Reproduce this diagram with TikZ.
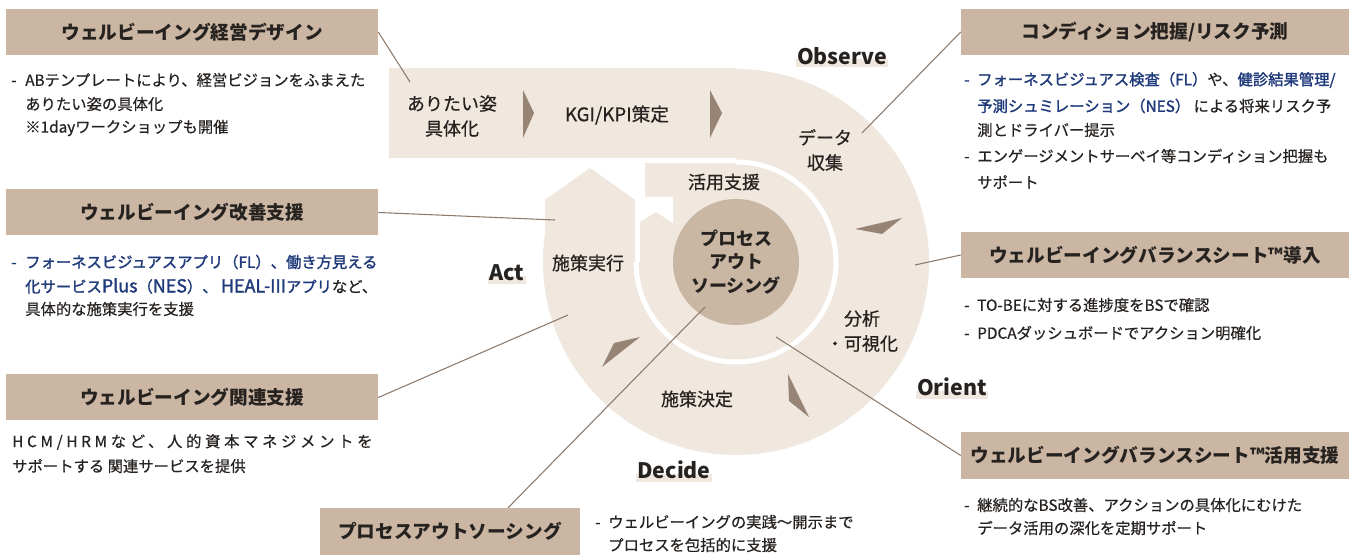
\documentclass[tikz,border=0pt]{standalone}
\usepackage{fontspec}
\setmainfont{Noto Sans CJK JP}
\newfontfamily\bodyfont{Noto Sans CJK JP}[FakeBold=0.6]
\newfontfamily\bluefont{Noto Sans CJK JP}[FakeBold=1.6]
\newfontfamily\widefont{Noto Sans CJK JP}[LetterSpace=24,FakeBold=0.6]
\usetikzlibrary{calc}
\definecolor{beige}{HTML}{F0E7DE}
\definecolor{tanc}{HTML}{CAB6A3}
\definecolor{circc}{HTML}{C9B6A3}
\definecolor{tric}{HTML}{978474}
\definecolor{ink}{HTML}{262220}
\definecolor{navy}{HTML}{1F3A7A}
\definecolor{connc}{HTML}{8C7A6C}
\pgfdeclarelayer{bg}
\pgfsetlayers{bg,main}
\newcommand\mydash{\makebox[10.5pt][l]{-}}
\newcommand\mydashR{\makebox[9.75pt][l]{-}}
\newcommand\blue[1]{\textcolor{navy}{\bluefont #1}}
\newcommand\lat[1]{{\fontsize{13.4}{14}\selectfont #1}}
\begin{document}
\begin{tikzpicture}[x=0.75pt,y=-0.75pt,
  hbox/.style={fill=tanc, text=ink, font=\fontsize{14}{16}\selectfont\bfseries, minimum height=34.5pt, inner sep=0pt},
  body/.style={anchor=west, inner sep=0pt, text=ink, font=\fontsize{11.5}{14}\bodyfont},
  dtext/.style={text=ink, font=\fontsize{13.5}{18.75}\bodyfont, align=center, inner sep=0pt},
  lab/.style={text=ink, font=\fontsize{16}{18}\selectfont\bfseries, inner sep=1pt},
  conn/.style={draw=connc, line width=0.8pt},
  tri/.style={fill=tric}]
\useasboundingbox (0,0) rectangle (1359,555);

% ---- central cycle shape ----
\fill[beige] (389,68.5) rectangle (736,158);
\fill[beige] (736,262) circle[radius=193];
\fill[white] (530,158) -- (736,158) -- (736,163) -- (645,163) -- (645,197) -- (673,197)
  -- (673,223) -- (656,212) -- (640,222) -- (640,262) -- (635,262) -- (635,200)
  -- (590,168) -- (545,200) -- (530,200) -- cycle;
\fill[beige] (545,262) -- (545,200) -- (590,168) -- (635,200) -- (635,262) -- cycle;
\draw[white, line width=3.75pt] (736,162) arc[start angle=-90, end angle=180, radius=100];

% arrows in the band
\fill[tri] (523,90) -- (534,113) -- (523,138) -- cycle;
\fill[tri] (710,90) -- (722,113) -- (710,138) -- cycle;
\fill[tri] (855,229) -- (902,218) -- (882,234) -- cycle;
\fill[tri] (788,374) -- (809,417) -- (789,401) -- cycle;
\fill[tri] (602,367) -- (614,343) -- (640,337) -- cycle;

% center circle
\node[circle, fill=circc, minimum size=94.5pt, inner sep=0pt, text=ink, align=center,
  font=\fontsize{13.5}{17.6}\selectfont\bfseries] (pc) at (736,262) {プロセス\\アウト\\ソーシング};

% texts in the band
\node[dtext] (d1) at (452,116) {ありたい姿\\具体化};
\node[dtext, font=\fontsize{14}{18.75}\bodyfont] (d2) at (617,115) {KGI/KPI策定};
\node[dtext] (d3) at (825,150) {データ\\収集};
\node[dtext] (d4) at (724,182) {活用支援};
\node[dtext] (d5) at (588,263) {施策実行};
\node[dtext] (d6) at (862,331) {分析\\・可視化};
\node[dtext] (d7) at (697,399) {施策決定};

% OODA labels
\node[lab] (obs) at (842,56) {Observe};
\node[lab] (act) at (507,273) {Act};
\node[lab] (ori) at (952,387) {Orient};
\node[lab] (dec) at (674,470) {Decide};
\begin{pgfonlayer}{bg}
\foreach \l in {obs,act,ori,dec}
  \fill[beige] ($(\l.base west)+(0,-5)$) rectangle ($(\l.base east)+(0,3)$);
\end{pgfonlayer}

% ---- header boxes ----
\node[hbox, minimum width=279pt] (b1) at (192,32) {ウェルビーイング経営デザイン};
\node[hbox, minimum width=279pt] (b2) at (192,212.5) {ウェルビーイング改善支援};
\node[hbox, minimum width=279pt] (b3) at (192,397.5) {ウェルビーイング関連支援};
\node[hbox, minimum width=195pt, minimum height=35.25pt] (b4) at (450,531.5) {プロセスアウトソーシング};
\node[hbox, minimum width=291pt] (b5) at (1155,32) {コンディション把握/リスク予測};
\node[hbox, minimum width=291pt] (b6) at (1155,255) {ウェルビーイングバランスシート™導入};
\node[hbox, minimum width=291pt] (b7) at (1155,455.5) {ウェルビーイングバランスシート™活用支援};

% ---- body texts ----
\node[body] (t1a) at (11,80) {\mydash ABテンプレートにより、経営ビジョンをふまえた};
\node[body] (t1b) at (25,104) {ありたい姿の具体化};
\node[body] (t1c) at (25,128) {※1dayワークショップも開催};

\node[body] (t2a) at (11,262) {\blue{\mydash フォーネスビジュアスアプリ（FL）、働き方見える}};
\node[body] (t2b) at (25,286) {\blue{化サービス\lat{Plus}（\lat{NES}）、 \lat{HEAL-III}アプリ}など、};
\node[body] (t2c) at (25,309) {具体的な施策実行を支援};

\node[body, font=\fontsize{11.5}{14}\widefont] (t3a) at (12,442) {HCM/HRMなど、人的資本マネジメントを};
\node[body] (t3b) at (12,466) {サポートする 関連サービスを提供};

\node[body] (t4a) at (595,522) {\mydashR ウェルビーイングの実践～開示まで};
\node[body] (t4b) at (608,545) {プロセスを包括的に支援};

\node[body] (t5a) at (964,80) {\blue{\mydashR フォーネスビジュアス検査（FL）}や、\blue{健診結果管理/}};
\node[body] (t5b) at (977,106) {\blue{予測シュミレーション（NES）} による将来リスク予};
\node[body] (t5c) at (977,130) {測とドライバー提示};
\node[body] (t5d) at (964,156) {\mydashR エンゲージメントサーベイ等コンディション把握も};
\node[body] (t5e) at (977,182) {サポート};

\node[body] (t6a) at (964,305) {\mydashR TO-BEに対する進捗度をBSで確認};
\node[body] (t6b) at (964,333) {\mydashR PDCAダッシュボードでアクション明確化};

\node[body] (t7a) at (964,505) {\mydashR 継続的なBS改善、アクションの具体化にむけた};
\node[body] (t7b) at (977,528) {データ活用の深化を定期サポート};

% ---- connectors ----
\coordinate (e1) at (410,82);
\coordinate (e2) at (555,220);
\coordinate (e3) at (568,315);
\coordinate (e4) at (705,307);
\coordinate (e5) at (862,133);
\coordinate (e6) at (915,265);
\coordinate (e7) at (776,337);
\draw[conn] (b1.east) -- (e1);
\draw[conn] (b2.east) -- (e2);
\draw[conn] (b3.east) -- (e3);
\draw[conn] ($(b4.north west)!0.723!(b4.north east)$) -- (e4);
\draw[conn] (b5.west) -- (e5);
\draw[conn] (b6.west) -- (e6);
\draw[conn] (b7.west) -- (e7);
\end{tikzpicture}
\end{document}
